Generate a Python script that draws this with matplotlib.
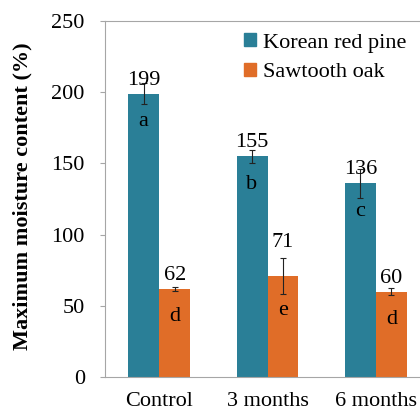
import numpy as np
import matplotlib
matplotlib.use('Agg')
import matplotlib.pyplot as plt
from matplotlib.patches import Patch

# datos
categorias = ['Control', '3 months', '6 months']
series = ['Korean red pine', 'Sawtooth oak']
pino = [199, 155, 136]
roble = [62, 71, 60]
err_pino = [7.5, 4.7, 10]
err_roble = [1.5, 12.5, 2.3]
letras_pino = ['a', 'b', 'c']
letras_roble = ['d', 'e', 'd']

azul = '#2A7F97'
naranja = '#E06D28'
gris = '#A6A6A6'

plt.rcParams['font.family'] = ['Liberation Serif', 'DejaVu Serif']
plt.rcParams['font.size'] = 16

fig = plt.figure(figsize=(4.2, 4.11), dpi=100)
ax = fig.add_axes([105 / 420, 34 / 411, 325 / 420, 356 / 411])

x = np.arange(len(categorias))
w = 0.286

for off, vals, errs, letras, col in [(-w / 2, pino, err_pino, letras_pino, azul),
                                      (w / 2, roble, err_roble, letras_roble, naranja)]:
    ax.bar(x + off, vals, w, color=col, zorder=2)
    ax.errorbar(x + off, vals, yerr=errs, fmt='none', ecolor='#222222',
                elinewidth=0.8, capsize=2.5, capthick=0.8, zorder=3)
    for xi, v, e, l in zip(x + off, vals, errs, letras):
        # la etiqueta se sube si la barra de error es grande (como en el original)
        arriba = 21 if e > 12 else 6.5
        abajo = -28 if e > 12 else -23.5
        ax.annotate(str(v), (xi, v), xytext=(0, arriba), textcoords='offset points',
                    ha='center', va='baseline', fontsize=16, zorder=4)
        ax.annotate(l, (xi, v), xytext=(0, abajo), textcoords='offset points',
                    ha='center', va='baseline', fontsize=16, zorder=4)

ax.set_xlim(-0.5, 2.5)
ax.set_ylim(0, 250)
ax.set_yticks([0, 50, 100, 150, 200, 250])
ax.set_xticks(x)
ax.set_xticklabels(categorias)
ax.tick_params(axis='x', length=0, pad=10.5)
ax.tick_params(axis='y', length=3.5, width=0.8, color=gris, pad=11)
for s in ax.spines.values():
    s.set_color(gris)
    s.set_linewidth(0.8)

fig.text(22 / 420, (411 - 196) / 411, 'Maximum moisture content (%)', fontweight='bold',
         fontsize=16, rotation=90, ha='center', va='center')

handles = [Patch(color=azul), Patch(color=naranja)]
fig.legend(handles, series, loc='upper left', bbox_to_anchor=(244 / 420, 378 / 411),
           frameon=False, borderpad=0, borderaxespad=0, handlelength=0.55,
           handleheight=0.55, handletextpad=0.3, labelspacing=0.45, fontsize=16)

fig.savefig('out.png', dpi=100)
